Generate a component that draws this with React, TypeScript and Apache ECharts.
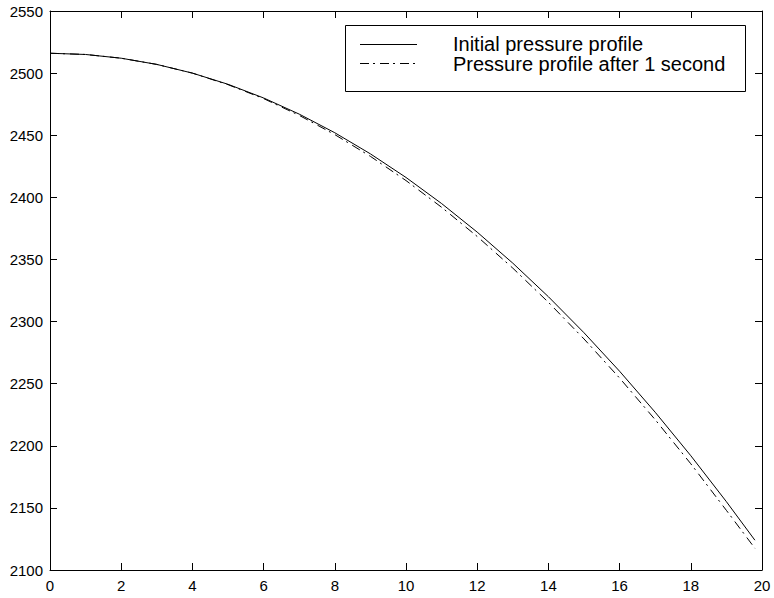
import React, { useEffect, useRef } from "react";
import * as echarts from "echarts";

const xValues = [0, 1, 2, 3, 4, 5, 6, 7, 8, 9, 10, 11, 12, 13, 14, 15, 16, 17, 18, 19, 19.8];
const initialProfile = [2516, 2515, 2512, 2507, 2500, 2491, 2480, 2467, 2452, 2435, 2416, 2395, 2372, 2347, 2320, 2291, 2260, 2227, 2192, 2155, 2124];
const afterOneSecond = [2516, 2515, 2512, 2507, 2500, 2490.7, 2479.5, 2466, 2450.5, 2433, 2413.5, 2392, 2368.5, 2343, 2315.5, 2286, 2254.5, 2221, 2185.5, 2148, 2117.5];
const seriesNames = ["Initial pressure profile", "Pressure profile after 1 second"];
const xRange = { min: 0, max: 20, interval: 2 };
const yRange = { min: 2100, max: 2550, interval: 50 };

const FONT = "'Liberation Sans', Arial, Helvetica, sans-serif";
const DASH = [9, 4, 2, 5];

export default function App() {
  const ref = useRef<HTMLDivElement>(null);
  useEffect(() => {
    if (!ref.current) return;
    const chart = echarts.init(ref.current, undefined, { renderer: "svg" });
    const axisCommon = {
      type: "value" as const,
      axisLine: { show: true, onZero: false, lineStyle: { color: "#000", width: 1 } },
      axisTick: { show: true, inside: true, length: 7, lineStyle: { color: "#000", width: 1 } },
      splitLine: { show: false },
    };
    const labelStyle = {
      color: "#000",
      fontFamily: FONT,
      fontSize: 15,
      formatter: (v: number) => String(v),
    };
    chart.setOption({
      animation: false,
      backgroundColor: "#fff",
      grid: { left: 50, right: 12, top: 11, bottom: 28, containLabel: false },
      xAxis: [
        { ...axisCommon, ...xRange, position: "bottom", axisLabel: { ...labelStyle, margin: 8 } },
        { ...axisCommon, ...xRange, position: "top", axisLabel: { show: false } },
      ],
      yAxis: [
        { ...axisCommon, ...yRange, position: "left", axisLabel: { ...labelStyle, margin: 7 } },
        { ...axisCommon, ...yRange, position: "right", axisLabel: { show: false } },
      ],
      series: [
        {
          name: seriesNames[0],
          type: "line",
          xAxisIndex: 0,
          yAxisIndex: 0,
          showSymbol: false,
          data: xValues.map((x, i) => [x, initialProfile[i]]),
          lineStyle: { color: "#000", width: 1 },
          itemStyle: { color: "#000" },
        },
        {
          name: seriesNames[1],
          type: "line",
          xAxisIndex: 0,
          yAxisIndex: 0,
          showSymbol: false,
          data: xValues.map((x, i) => [x, afterOneSecond[i]]),
          lineStyle: { color: "#000", width: 1, type: DASH },
          itemStyle: { color: "#000" },
        },
      ],
      graphic: [
        {
          type: "rect",
          shape: { x: 345.5, y: 25.5, width: 400, height: 66 },
          style: { fill: "#fff", stroke: "#000", lineWidth: 1 },
          z: 100,
        },
        {
          type: "line",
          shape: { x1: 360, y1: 44.5, x2: 417, y2: 44.5 },
          style: { stroke: "#000", lineWidth: 1 },
          z: 101,
        },
        {
          type: "line",
          shape: { x1: 360, y1: 63.5, x2: 417, y2: 63.5 },
          style: { stroke: "#000", lineWidth: 1, lineDash: DASH },
          z: 101,
        },
        {
          type: "text",
          x: 453,
          y: 43.5,
          style: { text: seriesNames[0], fill: "#000", font: `20px ${FONT}`, verticalAlign: "middle", align: "left" },
          z: 101,
        },
        {
          type: "text",
          x: 453,
          y: 64,
          style: { text: seriesNames[1], fill: "#000", font: `20px ${FONT}`, verticalAlign: "middle", align: "left" },
          z: 101,
        },
      ],
    });
    return () => chart.dispose();
  }, []);
  return (
    <div
      ref={ref}
      style={{ position: "fixed", left: 0, top: 0, width: 774, height: 598, background: "#fff" }}
    />
  );
}
